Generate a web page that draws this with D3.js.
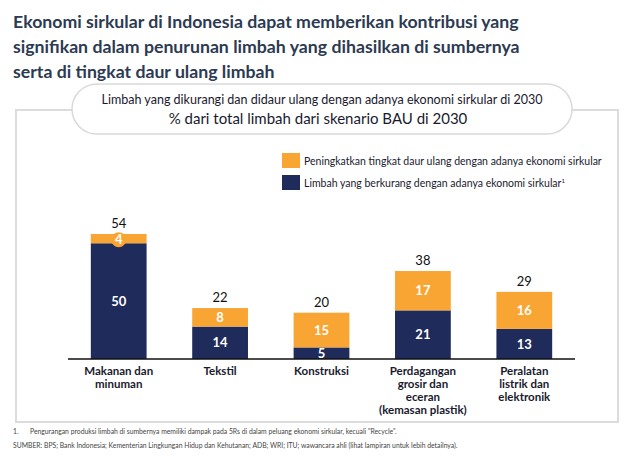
<!DOCTYPE html>
<html><head><meta charset="utf-8">
<script src="https://cdn.jsdelivr.net/npm/d3@7"></script>
<style>body{margin:0;background:#fff;}svg{display:block;font-family:Lato,"Open Sans",sans-serif;}</style>
</head><body>
<svg id="c" width="640" height="464"></svg>
<script>
const titleLines = ["Ekonomi sirkular di Indonesia dapat memberikan kontribusi yang","signifikan dalam penurunan limbah yang dihasilkan di sumbernya","serta di tingkat daur ulang limbah"];
const subtitle1 = "Limbah yang dikurangi dan didaur ulang dengan adanya ekonomi sirkular di 2030";
const subtitle2 = "% dari total limbah dari skenario BAU di 2030";
const categories = [["Makanan dan","minuman"],["Tekstil"],["Konstruksi"],["Perdagangan","grosir dan","eceran","(kemasan plastik)"],["Peralatan","listrik dan","elektronik"]];
const reduced = [50,14,5,21,13];
const recycled = [4,8,15,17,16];
const totals = [54,22,20,38,29];
const legendLabels = ["Peningkatkan tingkat daur ulang dengan adanya ekonomi sirkular","Limbah yang berkurang dengan adanya ekonomi sirkular"];
const footnoteNum = "1.";
const footnotes = ["Pengurangan produksi limbah di sumbernya memiliki dampak pada 5Rs di dalam peluang ekonomi sirkular, kecuali \"Recycle\".","SUMBER: BPS; Bank Indonesia; Kementerian Lingkungan Hidup dan Kehutanan; ADB; WRI; ITU; wawancara ahli (lihat lampiran untuk lebih detailnya)."];

const NAVY="#1f2b5b", ORANGE="#f9a533", TITLE="#2c3a52";
const svg=d3.select("#c");

// title
svg.append("g").selectAll("text").data(titleLines).join("text")
  .attr("x",13).attr("y",(d,i)=>28+i*25).attr("fill",TITLE)
  .attr("font-size",17.7).attr("font-weight",700).text(d=>d);

// box
svg.append("rect").attr("x",16).attr("y",110).attr("width",602).attr("height",312)
  .attr("fill","#fff").attr("stroke","#dcdcdc").attr("stroke-width",2);
// pill
svg.append("rect").attr("x",72).attr("y",84).attr("width",500).attr("height",50).attr("rx",25)
  .attr("fill","#fff").attr("stroke","#d9d9d9").attr("stroke-width",1.5);
svg.append("text").attr("x",322).attr("y",104).attr("text-anchor","middle").attr("font-size",12.5)
  .attr("fill","#1a1a2e").attr("textLength",441).attr("lengthAdjust","spacingAndGlyphs").text(subtitle1);
svg.append("text").attr("x",318).attr("y",124).attr("text-anchor","middle").attr("font-size",15)
  .attr("fill","#1a1a2e").text(subtitle2);

// legend
const lg=svg.append("g");
[ORANGE,NAVY].forEach((c,i)=>{
  lg.append("rect").attr("x",282).attr("y",153+i*22).attr("width",18).attr("height",15).attr("fill",c);
  const t=lg.append("text").attr("x",304).attr("y",165+i*22).attr("font-size",10.5).attr("fill","#1a1a2e").text(legendLabels[i]);
  if(i===1) t.append("tspan").attr("dy",-4).attr("font-size",6).text("1");
});

// scales
const x=d3.scaleBand().domain(d3.range(categories.length)).range([68,575]).paddingInner(0.45).paddingOuter(0.225);
const y=d3.scaleLinear().domain([0,54]).range([359,234]);

const g=svg.append("g");
const idx=d3.range(categories.length);
g.selectAll("rect.r").data(idx).join("rect").attr("class","r")
  .attr("x",i=>x(i)).attr("width",x.bandwidth())
  .attr("y",i=>y(reduced[i])).attr("height",i=>y(0)-y(reduced[i])).attr("fill",NAVY);
g.selectAll("rect.o").data(idx).join("rect").attr("class","o")
  .attr("x",i=>x(i)).attr("width",x.bandwidth())
  .attr("y",i=>y(reduced[i]+recycled[i])).attr("height",i=>y(reduced[i])-y(reduced[i]+recycled[i])).attr("fill",ORANGE);

// segment labels
const cx=i=>x(i)+x.bandwidth()/2;
idx.forEach(i=>{
  const ym=(y(0)+y(reduced[i]))/2;
  g.append("text").attr("x",cx(i)).attr("y",ym).attr("dy","0.36em").attr("text-anchor","middle")
    .attr("font-size",13).attr("font-weight",700).attr("fill","#fff").text(reduced[i]);
  const yo=(y(reduced[i])+y(reduced[i]+recycled[i]))/2;
  const small=(y(reduced[i])-y(reduced[i]+recycled[i]))<14;
  if(small) g.append("circle").attr("cx",cx(i)).attr("cy",yo+1).attr("r",7.5).attr("fill",ORANGE);
  g.append("text").attr("x",cx(i)).attr("y",small?yo+1:yo).attr("dy","0.36em").attr("text-anchor","middle")
    .attr("font-size",13).attr("font-weight",700).attr("fill","#fff").text(recycled[i]);
  g.append("text").attr("x",cx(i)).attr("y",y(totals[i])-6).attr("text-anchor","middle")
    .attr("font-size",13).attr("fill","#111").text(totals[i]);
});

// axis
const ax=svg.append("g").attr("transform","translate(0,359)")
  .call(d3.axisBottom(x).tickSize(0).tickFormat(""));
ax.select(".domain").attr("stroke","#111").attr("stroke-width",1.5).attr("d","M68,0H575");
idx.forEach(i=>{
  categories[i].forEach((s,k)=>svg.append("text").attr("text-anchor","middle").attr("font-size",11.5)
    .attr("font-weight",700).attr("fill","#1a1a2e").attr("x",cx(i)).attr("y",375+k*13).text(s));
});

// footnotes
svg.append("text").attr("x",13).attr("y",434).attr("font-size",6.8).attr("fill","#444").text(footnoteNum);
svg.append("text").attr("x",30).attr("y",434).attr("font-size",6.8).attr("fill","#444").text(footnotes[0]);
svg.append("text").attr("x",13).attr("y",448).attr("font-size",6.8).attr("fill","#444").text(footnotes[1]);
</script>
</body></html>
